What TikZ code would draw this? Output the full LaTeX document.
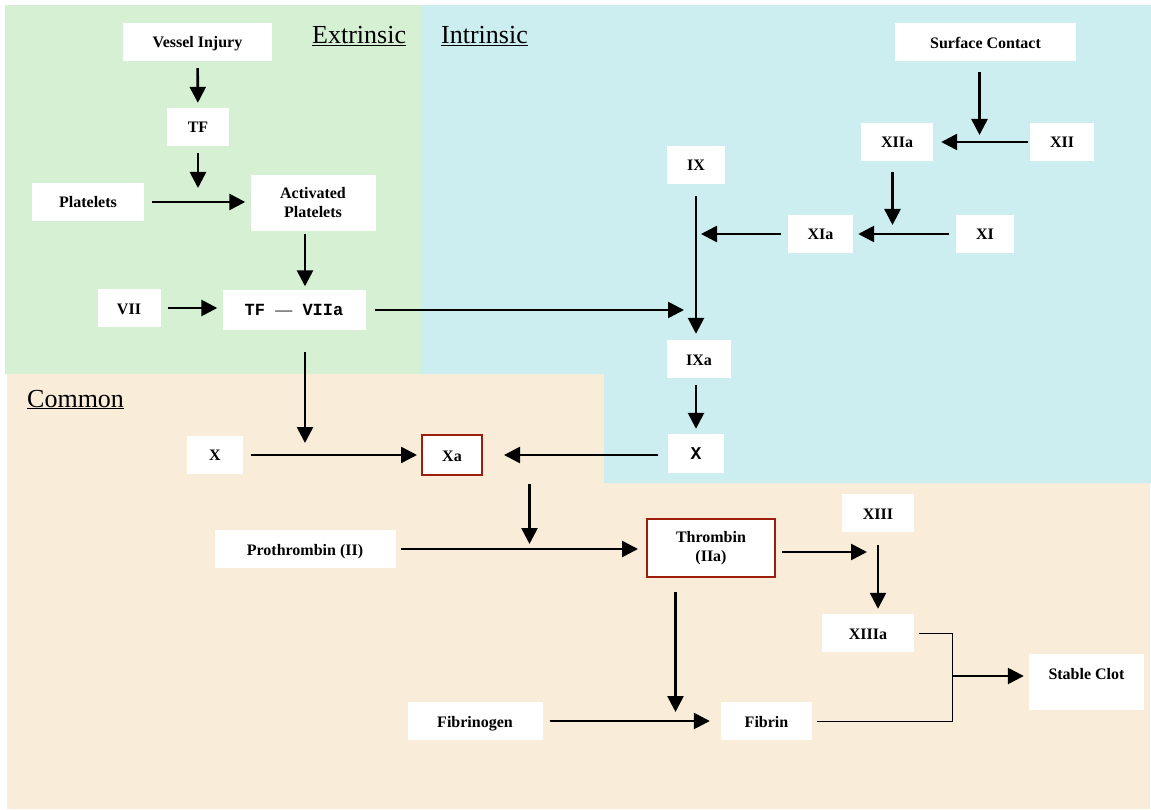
\documentclass[tikz,border=0pt]{standalone}
\usepackage{fontspec}
\setmainfont{Liberation Serif}
\newfontfamily\monofam{Liberation Mono}
\usetikzlibrary{arrows.meta}

\definecolor{extgreen}{RGB}{214,240,212}
\definecolor{intblue}{RGB}{204,238,240}
\definecolor{compeach}{RGB}{249,237,218}
\definecolor{keyred}{RGB}{158,30,14}

\tikzset{
    box/.style={fill=white, inner sep=0pt, minimum height=38pt, align=center,
        font=\fontsize{16}{19}\selectfont\bfseries},
    onebox/.style={box, text height=13pt, text depth=1pt},
    keybox/.style={box, draw=keyred, line width=2pt},
    arr/.style={line width=2.6pt, -{Triangle[length=16pt,width=16pt]},
        shorten <=7pt, shorten >=5pt},
    lnk/.style={line width=1pt},
    region/.style={anchor=base west, inner sep=0pt, font=\fontsize{26}{30}\selectfont}
}

\begin{document}
\begin{tikzpicture}[x=1pt,y=-1pt]

            \useasboundingbox (0,0) rectangle (1151,810);

            % Coloured areas of the three pathways
            \fill[compeach] (7,373) rectangle (1150,809);
            \fill[extgreen] (5,5) rectangle (421,374);
            \fill[intblue] (421,5) -- (1151,5) -- (1151,483) -- (604,483)
                -- (604,374) -- (421,374) -- cycle;

            % Pathway titles
            \node[region] (extlabel) at (312,44) {\underline{Extrinsic}};
            \node[region] (intlabel) at (441,44) {\underline{Intrinsic}};
            \node[region] (comlabel) at (27,407) {\underline{Common}};

            % One-line factor boxes (loop)
            \foreach \name/\x/\y/\w/\txt in {vessel/197.5/42/149/Vessel Injury,
                    tf/198/127/62/TF, plt/88/202/112/Platelets, vii/129/308/63/VII,
                    surf/985.5/42.5/181/Surface Contact, xiia/897/142/72/XIIa,
                    xii/1062/142/64/XII, ix/696/165/58/IX, xia/820.5/234/65/XIa,
                    xi/985/234/58/XI, ixa/699/359/64/IXa, xl/215/454.5/56/X,
                    proth/305/549/181/Prothrombin (II), xiii/878/513/72/XIII,
                    xiiia/868/633/92/XIIIa, fibgen/475/721/135/Fibrinogen,
                    fibrin/766.5/721/91/Fibrin}
                \node[onebox, minimum width=\w pt] (\name) at (\x,\y) {\txt};

            % Boxes of their own
            \node[box, minimum width=125pt, minimum height=56pt] (actplt) at (313,203) {Activated\\Platelets};
            \node[onebox, minimum width=143pt, minimum height=39pt] (tfvii) at (294,310)
                {\fontsize{17}{19}\selectfont\monofam TF {\rmfamily\mdseries —} VIIa};
            \node[onebox, minimum width=56pt, minimum height=39pt] (xr) at (696,453.5)
                {\fontsize{18}{19}\selectfont\monofam X};
            \node[onebox, keybox, minimum width=60pt, minimum height=40pt] (xa) at (452,455) {Xa};
            \node[keybox, minimum width=128pt, minimum height=58pt] (thr) at (711,548) {Thrombin\\(IIa)};
            \node[box, minimum width=115pt, minimum height=56pt, text height=11pt, text depth=16pt]
                (clot) at (1086.5,682) {Stable Clot};

            % Points where an arrow meets another connector
            \coordinate (tfend) at (198,188);
            \coordinate (ixjoin) at (684,309);
            \coordinate (xiajoin) at (701,234);
            \coordinate (xiiajoin) at (892.5,225);
            \coordinate (surfjoin) at (979.5,135);
            \coordinate (xjoin) at (305,443);
            \coordinate (projoin) at (529.5,544);
            \coordinate (xiiijoin) at (867,552);
            \coordinate (fibjoin) at (675.5,712);
            \coordinate (clotjoin) at (952,676);

            % Extrinsic arrows
            \draw[arr] (vessel) -- (tf);
            \draw[arr, shorten >=0pt] (tf) -- (tfend);
            \draw[arr, shorten <=8pt] (plt) -- (plt -| actplt.west);
            \draw[arr, shorten <=3pt, shorten >=4pt] ([xshift=-8pt]actplt.south) -- ([xshift=-8pt]actplt.south |- tfvii.north);
            \draw[arr] (vii) -- (vii -| tfvii.west);
            \draw[arr, shorten <=9pt, shorten >=0pt] (tfvii) -- (tfvii -| ixjoin);
            \draw[arr, shorten <=22pt, shorten >=0pt] ([xshift=11pt]tfvii.south) -- (xjoin);

            % Intrinsic arrows
            \draw[arr, shorten <=10pt, shorten >=0pt] ([xshift=-6pt]surf.south) -- (surfjoin);
            \draw[arr, shorten <=2pt, shorten >=8pt] (xii) -- (xiia);
            \draw[arr, shorten <=11pt, shorten >=0pt] ([xshift=-4.5pt]xiia.south) -- (xiiajoin);
            \draw[arr] (xi) -- (xia);
            \draw[arr, shorten >=0pt] (xia) -- (xiajoin);
            \draw[arr, shorten <=12pt, shorten >=6pt] (ix) -- (ix |- ixa.north);
            \draw[arr] (ixa.south -| xr) -- (xr);
            \draw[arr, shorten <=10pt, shorten >=21pt] (xr.west |- xa) -- (xa);

            % Common arrows
            \draw[arr, shorten <=8pt, shorten >=4pt] (xl.east |- xa) -- (xa);
            \draw[arr, shorten <=0pt, shorten >=0pt] ([yshift=-8pt]xa.south -| projoin) -- (projoin);
            \draw[arr, shorten <=5pt, shorten >=8pt] (proth) -- (proth -| thr.west);
            \draw[arr, shorten <=6pt, shorten >=0pt] (thr.east |- xiiijoin) -- (xiiijoin);
            \draw[arr, shorten <=13pt] (xiii) -- (xiii |- xiiia.north);
            \draw[arr, shorten <=14pt, shorten >=0pt] (thr.south -| fibjoin) -- (fibjoin);
            \draw[arr, shorten >=11pt] (fibgen) -- (fibrin);

            % XIIIa and Fibrin join into the clot
            \draw[lnk] ([xshift=5pt]xiiia.east) -| (clotjoin) |- ([xshift=5pt]fibrin.east);
            \draw[arr, shorten <=0pt] (clotjoin) -- (clotjoin -| clot.west);

        \end{tikzpicture}
\end{document}
